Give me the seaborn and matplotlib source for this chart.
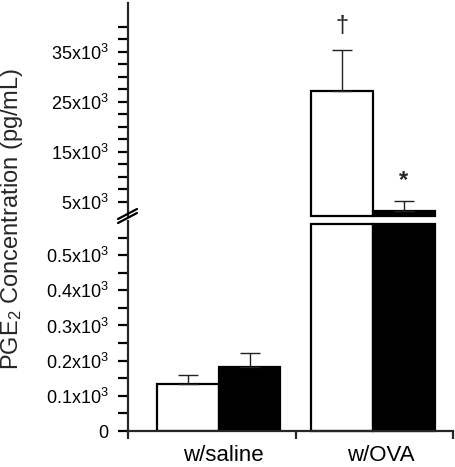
import numpy as np
import pandas as pd
import matplotlib
matplotlib.use("Agg")
import matplotlib.pyplot as plt
from matplotlib.lines import Line2D
import seaborn as sns

# ---- data ----
groups = ["w/saline", "w/OVA"]
treatments = ["vehicle", "treated"]
means_vehicle = [135, 27260]
means_treated = [183, 3260]
sem_vehicle = [25, 8140]
sem_treated = [39, 2000]
marks_vehicle = ["", "\u2020"]
marks_treated = ["", "*"]

top_major = [5000, 15000, 25000, 35000]
top_labels = ["5x10$^3$", "15x10$^3$", "25x10$^3$", "35x10$^3$"]
top_minor = [7500, 10000, 12500, 17500, 20000, 22500, 27500, 30000, 32500, 37500, 40000]
bot_major = [0, 100, 200, 300, 400, 500]
bot_labels = ["0", "0.1x10$^3$", "0.2x10$^3$", "0.3x10$^3$", "0.4x10$^3$", "0.5x10$^3$"]
bot_minor = [50, 150, 250, 350, 450, 550]

df = pd.DataFrame({
    "group": groups * 2,
    "treatment": [treatments[0]] * 2 + [treatments[1]] * 2,
    "value": means_vehicle + means_treated,
    "sem": sem_vehicle + sem_treated,
    "mark": marks_vehicle + marks_treated,
})

sns.set_theme(style="ticks")
plt.rcParams["font.family"] = ["Liberation Sans", "DejaVu Sans"]
plt.rcParams["mathtext.default"] = "regular"

W, H = 456, 467
fig = plt.figure(figsize=(W / 100, H / 100), dpi=100)
fig.patch.set_facecolor("white")

left = 128 / W
width = (453 - 128) / W
ax_top = fig.add_axes([left, 1 - 216 / H, width, (216 - 3) / H])
ax_bot = fig.add_axes([left, 1 - 431 / H, width, (431 - 221) / H])

top_lim = (2200, 44800)
bot_lim = (0, 597)
xlim = (-0.59, 1.52)
palette = {treatments[0]: "white", treatments[1]: "black"}

for ax in (ax_top, ax_bot):
    sns.barplot(data=df, x="group", y="value", hue="treatment", order=groups,
                hue_order=treatments, palette=palette, errorbar=None,
                edgecolor="black", linewidth=1.6, width=0.8, legend=False,
                saturation=1, ax=ax)
    ax.set_facecolor("white")
    ax.set_xlabel("")
    ax.set_ylabel("")

# order of patches: hue level by hue level, categories within
order_rows = [(t, g) for t in treatments for g in groups]

def bar_centers(ax):
    out = {}
    for (t, g), p in zip(order_rows, list(ax.patches)):
        out[(t, g)] = (p, p.get_x() + p.get_width() / 2)
    return out

# top panel: bars start at bottom of the visible range
ax_top.set_ylim(*top_lim)
for (t, g), (p, xc) in bar_centers(ax_top).items():
    h = p.get_height()
    if h > top_lim[0]:
        p.set_y(top_lim[0])
        p.set_height(h - top_lim[0])
        p.set_clip_on(False)
    else:
        p.set_visible(False)

# bottom panel: bars truncated just below the break
ax_bot.set_ylim(*bot_lim)
for (t, g), (p, xc) in bar_centers(ax_bot).items():
    h = p.get_height()
    if h > bot_lim[1]:
        p.set_height(bot_lim[1] * 0.984)
        p.set_clip_on(False)

# error bars (upper only)
for ax in (ax_top, ax_bot):
    centers = bar_centers(ax)
    for _, row in df.iterrows():
        p, xc = centers[(row["treatment"], row["group"])]
        ax.errorbar([xc], [row["value"]], yerr=[[0], [row["sem"]]], fmt="none",
                    ecolor="#222222", elinewidth=1.0, capsize=7, capthick=1.0, zorder=1)

# significance marks
centers = bar_centers(ax_top)
for _, row in df.iterrows():
    if row["mark"]:
        p, xc = centers[(row["treatment"], row["group"])]
        top = row["value"] + row["sem"]
        if row["mark"] == "*":
            ax_top.annotate(row["mark"], (xc, top), xytext=(0, 6), textcoords="offset points",
                            ha="center", va="bottom", fontsize=17, fontweight="bold")
        else:
            ax_top.annotate(row["mark"], (xc, top), xytext=(0, 9), textcoords="offset points",
                            ha="center", va="bottom", fontsize=17)

# axes styling
for ax in (ax_top, ax_bot):
    ax.set_xlim(*xlim)
    for s in ("top", "right"):
        ax.spines[s].set_visible(False)
    ax.spines["left"].set_linewidth(1.6)
    ax.spines["bottom"].set_linewidth(1.6)
    ax.tick_params(axis="y", which="both", direction="out", length=7, width=1.6,
                   labelsize=13, pad=7, colors="black")

ax_top.spines["bottom"].set_visible(False)
ax_top.set_xticks([])
ax_top.set_yticks(top_major, top_labels)
ax_top.set_yticks(top_minor, minor=True)

ax_bot.set_yticks(bot_major, bot_labels)
ax_bot.set_yticks(bot_minor, minor=True)
ax_bot.set_xticks([0.03, 1.05], groups)
ax_bot.set_xticks([xlim[0], 0.5, xlim[1]], minor=True)
ax_bot.tick_params(axis="x", which="major", length=0, labelsize=16, pad=10, colors="black")
ax_bot.tick_params(axis="x", which="minor", direction="out", length=6, width=1.6)

# axis break marks
for dy in (0, 4):
    fig.add_artist(Line2D([118 / W, 137 / W], [1 - (223 - dy) / H, 1 - (213 - dy) / H],
                          color="black", lw=1.6, transform=fig.transFigure))

fig.text(12 / W, 1 - 219 / H, "PGE$_2$ Concentration (pg/mL)", rotation=90,
         ha="center", va="center", fontsize=17)

fig.savefig("out.png", dpi=100, facecolor="white")
